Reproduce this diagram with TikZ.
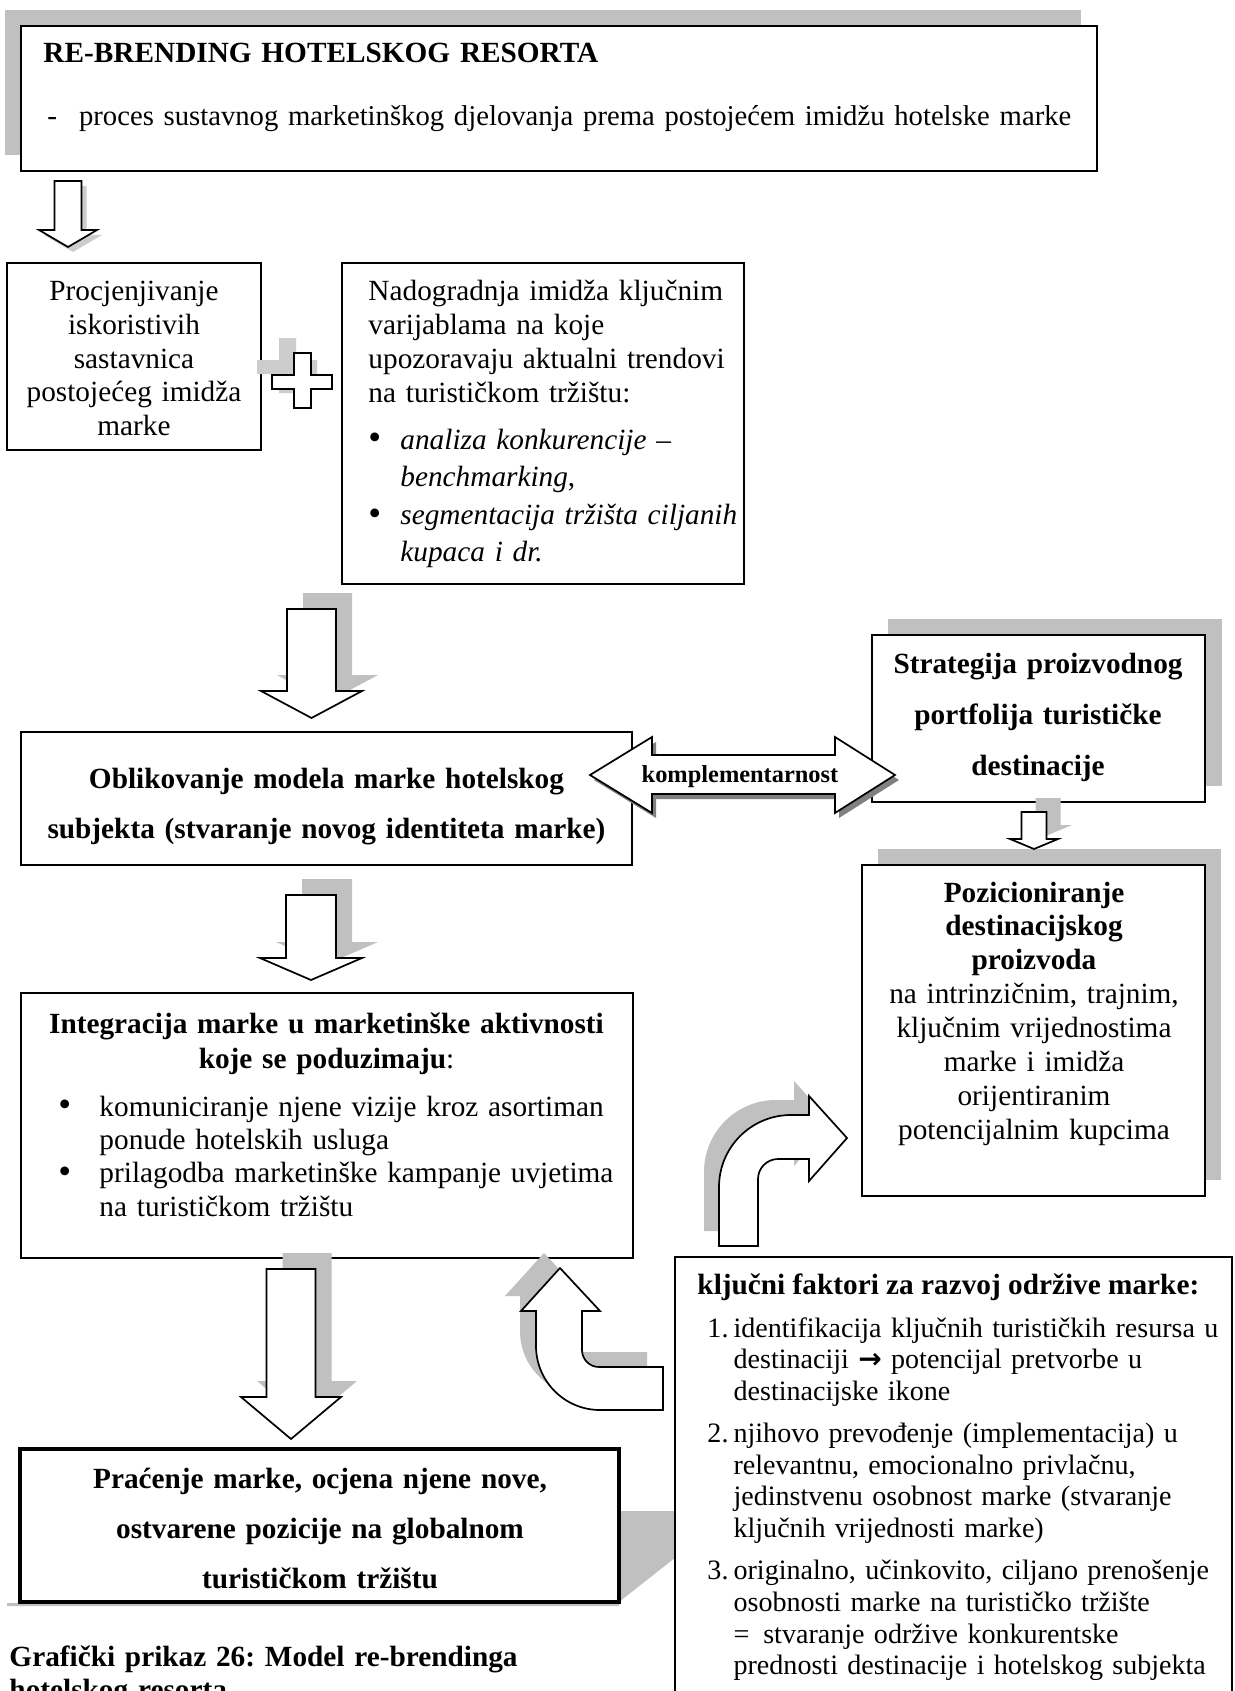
\documentclass[tikz,border=0pt]{standalone}
\usepackage{fontspec}
\setmainfont{Liberation Serif}
\newfontfamily\symfont{DejaVu Sans}
\usetikzlibrary{fit}
\frenchspacing

\definecolor{shadowgray}{RGB}{192,192,192}
\definecolor{softgray}{RGB}{205,205,205}
\definecolor{darkshadow}{RGB}{128,128,128}

\tikzset{
  box/.style={draw, line width=0.8pt, fill=white, inner sep=0pt},
  blockarrow/.style={draw, line width=0.7pt, fill=white},
  txt/.style={inner sep=0pt, font=\fontsize{12}{13.8}\selectfont},
}

% straight block arrow pointing down: x, top, head, tip, shaft half, head half
\newcommand{\downshape}[6]{(#1-#5,#2) -- (#1+#5,#2) -- (#1+#5,#3) -- (#1+#6,#3) -- (#1,#4) -- (#1-#6,#3) -- (#1-#5,#3) -- cycle}
\newcommand{\twowayshape}{(590,775) -- (652,737) -- (652,755) -- (835,755) -- (835,737) -- (895,775) -- (835,813) -- (835,794) -- (652,794) -- (652,813) -- cycle}
\newcommand{\bendshape}{(719,1246) -- (719,1187) .. controls (719,1147.2) and (751.2,1115) .. (791,1115) -- (809,1115) -- (809,1096) -- (847,1138) -- (809,1181) -- (809,1159) -- (778,1159) .. controls (767,1159) and (758,1168) .. (758,1179) -- (758,1246) -- cycle}
\newcommand{\uturnshape}{(560,1268) -- (600,1311) -- (582,1311) -- (582,1350) .. controls (582,1359.4) and (589.6,1367) .. (599,1367) -- (663,1367) -- (663,1410) -- (600,1410) .. controls (564.7,1410) and (536,1381.3) .. (536,1346) -- (536,1311) -- (521,1311) -- cycle}
\newcommand{\plusshape}{(294,353) -- (311,353) -- (311,375) -- (332,375) -- (332,389) -- (311,389) -- (311,408) -- (294,408) -- (294,389) -- (272,389) -- (272,375) -- (294,375) -- cycle}
\newcommand{\dotitem}[1]{\makebox[#1][l]{\raisebox{-0.3pt}{\fontsize{15}{15}\selectfont\textbullet}}}

\begin{document}
\begin{tikzpicture}[x=0.4098pt,y=-0.4098pt]
  \useasboundingbox (0,0) rectangle (1234,1691);
  \clip (0,0) rectangle (1234,1691);
  \fill[white] (0,0) rectangle (1234,1691);

  % shadows of the boxes
  \fill[shadowgray] (5,10) rectangle (1081,155);
  \fill[shadowgray] (888,619) rectangle (1222,786);
  \fill[shadowgray] (878,849) rectangle (1221,1180);

  % boxes
  \node[box, fit={(21,26) (1097,171)}] (rebrand) {};
  \node[box, fit={(7,263) (261,450)}] (procjena) {};
  \node[box, fit={(342,263) (744,584)}] (nadogradnja) {};
  \node[box, fit={(21,732) (632,865)}] (oblikovanje) {};
  \node[box, fit={(872,635) (1205,802)}] (strategija) {};
  \node[box, fit={(862,865) (1205,1196)}] (pozicija) {};
  \node[box, fit={(21,993) (633,1258)}] (integracija) {};
  \fill[shadowgray] (619,1511) -- (676,1511) -- (676,1557) -- (619,1602) -- cycle;
  \fill[shadowgray] (7,1603) -- (619,1601) -- (619,1606) -- (7,1606) -- cycle;
  \node[box, line width=1.3pt, fit={(20,1449) (619,1602)}] (pracenje) {};
  \node[box, fit={(675,1257) (1232,1720)}] (faktori) {};

  % arrow shadows
  \fill[softgray, shift={(5,5)}] \downshape{68}{181}{230}{247}{13.5}{29};
  \fill[softgray, shift={(-15,-15)}] \plusshape;
  \fill[shadowgray, shift={(16,-16)}] \downshape{311.5}{609}{691}{718}{24.5}{50.5};
  \fill[shadowgray, shift={(16,-16)}] \downshape{311}{895}{958}{980}{25}{51};
  \fill[shadowgray, shift={(16,-16)}] \downshape{291}{1269}{1397}{1439}{24.5}{50};
  \fill[shadowgray, shift={(14,-14)}] \downshape{1034}{812}{839}{849}{12.5}{24};
  \fill[darkshadow, shift={(4,5)}] \twowayshape;
  \fill[shadowgray, shift={(-15,-15)}] \bendshape;
  \fill[shadowgray, shift={(-16,-15)}] \uturnshape;

  % arrows
  \draw[blockarrow] \downshape{68}{181}{230}{247}{13.5}{29};
  \draw[blockarrow] \plusshape;
  \draw[blockarrow] \downshape{311.5}{609}{691}{718}{24.5}{50.5};
  \draw[blockarrow] \downshape{311}{895}{958}{980}{25}{51};
  \draw[blockarrow] \downshape{291}{1269}{1397}{1439}{24.5}{50};
  \draw[blockarrow] \downshape{1034}{812}{839}{849}{12.5}{24};
  \draw[blockarrow] \twowayshape;
  \draw[blockarrow] \bendshape;
  \draw[blockarrow] \uturnshape;

  % texts
  \node[txt, anchor=base west, text width=430pt, align=left] (rebrandTxt) at (43,63)
    {\textbf{RE-BRENDING HOTELSKOG RESORTA}\\[12pt]\hspace*{1.6pt}-\hspace{9pt}{\fontsize{11.75}{13.8}\selectfont proces sustavnog marketinškog djelovanja prema postojećem imidžu hotelske marke}};
  \node[txt, anchor=base, text width=100pt, align=center, font=\fontsize{12}{13.75}\selectfont] (procjenaTxt) at (134,301)
    {Procjenjivanje\\ iskoristivih\\ sastavnica\\ postojećeg imidža\\ marke};
  \node[txt, anchor=base west, text width=160pt, align=left] (nadogradnjaTxt) at (368,301)
    {Nadogradnja imidža ključnim\\ varijablama na koje\\ upozoravaju aktualni trendovi\\ na turističkom tržištu:\\[5.5pt]
     \dotitem{13.1pt}\textit{analiza konkurencije –}\\[1.6pt]
     \hspace*{13.1pt}\textit{benchmarking},\\[1.6pt]
     \dotitem{13.1pt}\textit{segmentacija tržišta ciljanih}\\[1.6pt]
     \hspace*{13.1pt}\textit{kupaca i dr.}};
  \node[txt, anchor=base, text width=250pt, align=center, font=\bfseries\fontsize{12}{20.5}\selectfont] (oblikovanjeTxt) at (326.5,788)
    {Oblikovanje modela marke hotelskog\\ subjekta (stvaranje novog identiteta marke)};
  \node[txt, anchor=base, font=\bfseries\fontsize{10}{12}\selectfont] (komplTxt) at (740,782) {komplementarnost};
  \node[txt, anchor=base, text width=135pt, align=center, font=\bfseries\fontsize{12}{20.9}\selectfont] (strategijaTxt) at (1038,673)
    {Strategija proizvodnog\\ portfolija turističke\\ destinacije};
  \node[txt, anchor=base, text width=140pt, align=center, font=\fontsize{12}{13.9}\selectfont] (pozicijaTxt) at (1034,902)
    {\textbf{Pozicioniranje}\\ \textbf{destinacijskog}\\ \textbf{proizvoda}\\ na intrinzičnim, trajnim,\\ ključnim vrijednostima\\ marke i imidža\\ orijentiranim\\ potencijalnim kupcima};
  \node[txt, anchor=base, text width=250pt, align=center, font=\fontsize{12}{14.6}\selectfont] (integracijaTxt) at (326.5,1033)
    {\textbf{Integracija marke u marketinške aktivnosti}\\ \textbf{koje se poduzimaju}:};
  \node[txt, anchor=base west, text width=240pt, align=left, font=\fontsize{12}{13.7}\selectfont] (integracijaList) at (58,1116)
    {\dotitem{16.8pt}komuniciranje njene vizije kroz asortiman\\
     \hspace*{16.8pt}ponude hotelskih usluga\\
     \dotitem{16.8pt}prilagodba marketinške kampanje uvjetima\\
     \hspace*{16.8pt}na turističkom tržištu};
  \node[txt, anchor=base west, font=\bfseries\fontsize{12}{13.8}\selectfont] (faktoriTxt) at (697,1294)
    {ključni faktori za razvoj održive marke:};
  \node[txt, anchor=base west, text width=225pt, align=left, font=\fontsize{11.5}{13}\selectfont] (faktoriList) at (707,1337)
    {\makebox[10.7pt][l]{1.}identifikacija ključnih turističkih resursa u\\
     \hspace*{10.7pt}destinaciji {\symfont\bfseries →} potencijal pretvorbe u\\
     \hspace*{10.7pt}destinacijske ikone\\[4.2pt]
     \makebox[10.7pt][l]{2.}njihovo prevođenje (implementacija) u\\
     \hspace*{10.7pt}relevantnu, emocionalno privlačnu,\\
     \hspace*{10.7pt}jedinstvenu osobnost marke (stvaranje\\
     \hspace*{10.7pt}ključnih vrijednosti marke)\\[4.2pt]
     \makebox[10.7pt][l]{3.}originalno, učinkovito, ciljano prenošenje\\
     \hspace*{10.7pt}osobnosti marke na turističko tržište\\
     \hspace*{10.7pt}=\hspace{5.7pt}stvaranje održive konkurentske\\
     \hspace*{10.7pt}prednosti destinacije i hotelskog subjekta};
  \node[txt, anchor=base, text width=240pt, align=center, font=\bfseries\fontsize{12}{20.5}\selectfont] (pracenjeTxt) at (320,1488)
    {Praćenje marke, ocjena njene nove,\\ ostvarene pozicije na globalnom\\ turističkom tržištu};
  \node[txt, anchor=base west, text width=260pt, align=left, font=\bfseries\fontsize{12}{13.8}\selectfont] (caption) at (9,1666)
    {Grafički prikaz 26: Model re-brendinga\\ hotelskog resorta};
\end{tikzpicture}
\end{document}
